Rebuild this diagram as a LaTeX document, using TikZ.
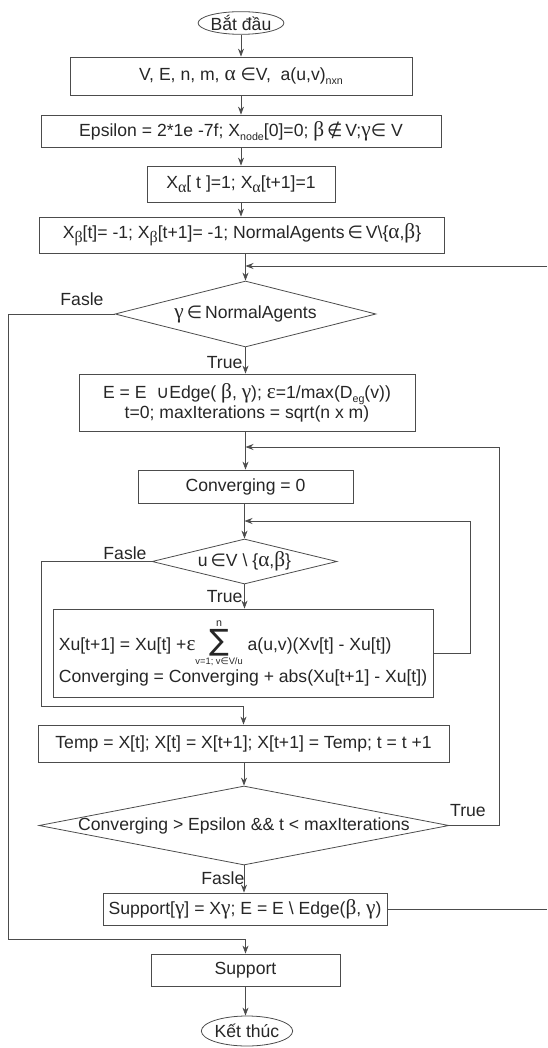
\documentclass[tikz,border=0pt]{standalone}
\usepackage{fontspec}
\setmainfont{Liberation Sans}
\newfontfamily\gk{Liberation Serif}
\newfontfamily\sym{DejaVu Sans}
\usetikzlibrary{shapes.geometric,arrows.meta}
\newcommand\sbs[1]{\raisebox{-0.45ex}{\footnotesize #1}}
\newcommand\gr[1]{{\gk\fontsize{16}{16}\selectfont #1}}
\newcommand\grs[1]{{\gk\fontsize{12}{12}\selectfont #1}}
\newcommand\sy[1]{{\sym #1}}
\begin{document}
\begin{tikzpicture}[x=0.75pt,y=-0.75pt,
  font=\fontsize{13.2}{16}\selectfont, text=black!85,
  line/.style={draw=black!70, line width=0.6pt},
  arr/.style={line, -{Stealth[length=6pt,width=4.5pt]}},
  box/.style={line, rectangle, inner sep=0pt, align=center},
  dia/.style={line, diamond, inner sep=0pt},
  term/.style={line, ellipse, inner sep=0pt},
  lbl/.style={inner sep=1pt}
]
\useasboundingbox (0,0) rectangle (547,1048);

\node[term, minimum width=61pt, minimum height=17pt] (start) at (241,23) {Bắt đầu};
\node[box, minimum width=256.5pt, minimum height=28.5pt] (b1) at (241,76)
  {V, E, n, m, \gr{α} \sy{∈}V,\ \ a(u,v)\sbs{nxn}};
\node[box, minimum width=300pt, minimum height=24pt] (b2) at (241,131)
  {Epsilon = 2*1e -7f; X\sbs{node}[0]=0; \gr{β}\,\sy{∉}\,V;\gr{γ}\sy{∈} V};
\node[box, minimum width=141pt, minimum height=27pt] (b3) at (241,184)
  {X\sbs{\grs{α}}[ t ]=1; X\sbs{\grs{α}}[t+1]=1};
\node[box, minimum width=303.75pt, minimum height=27pt] (b4) at (242,235)
  {X\sbs{\grs{β}}[t]= -1; X\sbs{\grs{β}}[t+1]= -1; NormalAgents\,\sy{∈}\,V\textbackslash\{\gr{α},\gr{β}\}};
\node[dia, minimum width=195.75pt, minimum height=49.5pt] (d1) at (245.5,314)
  {\makebox[0pt]{\gr{γ}\,\sy{∈}\,NormalAgents}};
\node[box, minimum width=252pt, minimum height=42.75pt] (b5) at (247,402.5)
  {E = E \ \sy{∪}Edge( \gr{β}, \gr{γ}); \gr{ε}=1/max(D\sbs{eg}(v))\\[-1pt] t=0; maxIterations = sqrt(n x m)};
\node[box, minimum width=161.25pt, minimum height=24.75pt] (b6) at (245.5,486.5)
  {Converging = 0};
\node[dia, minimum width=138.75pt, minimum height=33.75pt] (d2) at (244.5,561.5)
  {\makebox[0pt]{u\,\sy{∈}V \textbackslash\ \{\gr{α},\gr{β}\}}};
\node[box, minimum width=285pt, minimum height=66pt, align=left] (b7) at (243,653)
  {Xu[t+1] = Xu[t] +\gr{ε}$\mathop{\mbox{\sym\fontsize{22}{22}\selectfont ∑}}\limits^{\mbox{\footnotesize n}}_{\mbox{\scriptsize v=1; v{\sym ∈}V/u}}$ a(u,v)(Xv[t] - Xu[t])\\[1pt]
   Converging = Converging + abs(Xu[t+1] - Xu[t])};
\node[box, minimum width=308.25pt, minimum height=27.75pt] (b8) at (243.5,743.5)
  {Temp = X[t]; X[t] = X[t+1]; X[t+1] = Temp; t = t +1};
\node[dia, minimum width=307.5pt, minimum height=59.25pt] (d3) at (244,825.5)
  {\makebox[0pt]{Converging > Epsilon \&\& t < maxIterations}};
\node[box, minimum width=213pt, minimum height=24pt] (b9) at (245,909)
  {Support[\gr{γ}] = X\gr{γ}; E = E \textbackslash\ Edge(\gr{β}, \gr{γ})};
\node[box, minimum width=141.75pt, minimum height=24pt] (b10) at (245.5,970)
  {Support};
\node[term, minimum width=60pt, minimum height=22.5pt] (end) at (247,1031) {Kết thúc};

% labels
\node[lbl] (f1) at (82,299) {Fasle};
\node[lbl, anchor=east] (t1) at (244,363) {True};
\node[lbl] (f2) at (125,553) {Fasle};
\node[lbl, anchor=east] (t2) at (244,597) {True};
\node[lbl] (t3) at (468,811) {True};
\node[lbl, anchor=east] (f3) at (246,878) {Fasle};

% coordinates
\coordinate (fb) at (547,266);
\coordinate (fbo) at (547,909);
\coordinate (L1) at (8,939);
\coordinate (L2) at (41,706);
\coordinate (R1) at (499,447);
\coordinate (R2) at (470,521);

% main flow
\draw[arr] (start.south) -- (start.south |- b1.north);
\draw[arr] (b1.south) -- (b1.south |- b2.north);
\draw[arr] (b2.south) -- (b2.south |- b3.north);
\draw[arr] (b3.south) -- (b3.south |- b4.north);
\draw[arr] (d1.north |- b4.south) -- (d1.north);
\draw[arr] (fb) -- (fb -| d1.north);
\draw[arr] (d1.south) -- (d1.south |- b5.north);
\draw[arr] (b5.south -| b6.north) -- (b6.north);
\draw[arr] (R1) -- (R1 -| b6.north);
\draw[arr] (d2.north |- b6.south) -- (d2.north);
\draw[arr] (R2) -- (R2 -| d2.north);
\draw[arr] (d2.south) -- (d2.south |- b7.north);
\draw[arr] (d3.north |- b8.south) -- (d3.north);
\draw[arr] (d3.south) -- (d3.south |- b9.north);
\draw[arr] (b10.south) -- (b10.south |- end.north);

% branches
\draw[arr] (d1.west) -| (L1) -- (L1 -| b10.north) -- (b10.north);
\draw[arr] (d2.west) -| (L2) -- (L2 -| b8.north) -- (b8.north);
\draw[line] (b7.east) -| (R2);
\draw[line] (d3.east) -| (R1);
\draw[line] (b9.east) -- (fbo);
\end{tikzpicture}
\end{document}
